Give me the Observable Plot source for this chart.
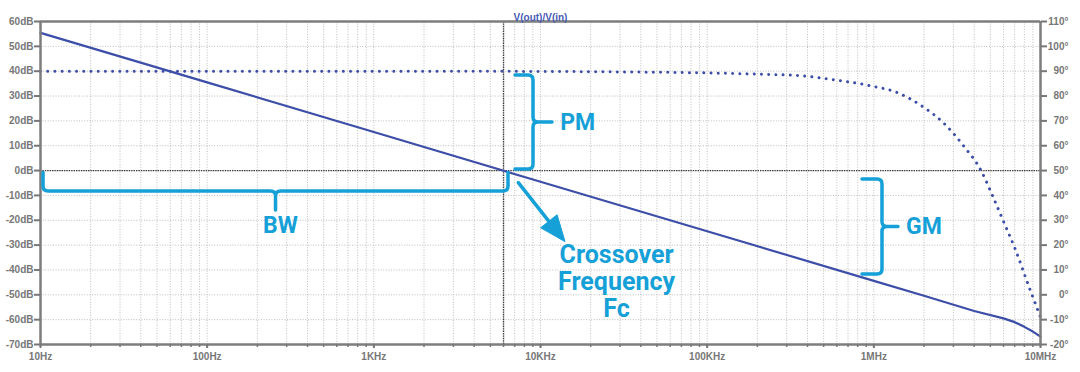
<!DOCTYPE html>
<html><head><meta charset="utf-8">
<script src="https://cdn.jsdelivr.net/npm/d3@7"></script>
<script src="https://cdn.jsdelivr.net/npm/@observablehq/plot@0.6"></script>
<style>html,body{margin:0;padding:0;background:#fff}svg{display:block}</style>
</head><body><div id="chart"></div>
<script>
// ---- data ----
const magFreq = [10, 100, 1e3, 1e4, 1e5, 1e6, 2e6, 4e6, 6e6, 7e6, 8e6, 9e6, 1e7];
const magDb   = [55.4, 35.5, 15.5, -4.5, -24.4, -44.4, -50.4, -56.5, -59.5, -61.0, -62.9, -64.8, -66.8];

const phaseFreq = [10, 1e3, 1e4, 3e4, 1e5, 2e5, 3.6e5, 5.7e5, 9.1e5, 1.45e6, 2e6, 2.6e6, 3.45e6, 4.4e6, 5.2e6, 6e6, 7.1e6, 8.5e6, 1e7];
const phaseDeg  = [90, 90, 89.9, 89.7, 89.3, 88.8, 88.2, 86.6, 84.4, 80.8, 75.4, 69.4, 60, 50, 39.3, 29.5, 17.9, 3.5, -9];

const crossoverHz = 6000;

const xTicks = [10, 100, 1e3, 1e4, 1e5, 1e6, 1e7];
const xTickLabels = ["10Hz", "100Hz", "1KHz", "10KHz", "100KHz", "1MHz", "10MHz"];
const dbTicks = [60, 50, 40, 30, 20, 10, 0, -10, -20, -30, -40, -50, -60, -70];
const dbTickLabels = ["60dB","50dB","40dB","30dB","20dB","10dB","0dB","-10dB","-20dB","-30dB","-40dB","-50dB","-60dB","-70dB"];
const phaseTicks = [110, 100, 90, 80, 70, 60, 50, 40, 30, 20, 10, 0, -10, -20];
const phaseTickLabels = ["110°","100°","90°","80°","70°","60°","50°","40°","30°","20°","10°","0°","-10°","-20°"];
const PHASE_AT_0DB = 50; // right axis: 50° aligned with 0dB, 10° per 10dB

const minorTicks = [];
for (let k = 1; k < 7; k++) for (let m = 1; m < 10; m++) minorTicks.push(m * 10 ** k);
minorTicks.push(1e7);

// annotations (data units: Hz, dB)
const pmBrace = {hook: 7080, spine: 9080, tip: 11800, top: 38.3, bottom: 0.4};
const gmBrace = {hook: 855e3, spine: 1.127e6, tip: 1.406e6, top: -3.6, bottom: -41.8};
const bwBrace = {left: 10.43, right: 6427, hook: -1.0, spine: -8.4, tip: -16.1};
const arrow = {f1: 7413, db1: -5.07, f2: 14130, db2: -28.8};
const labels = [
  {f: 16700, db: 19.2, text: "PM"},
  {f: 275, db: -22.1, text: "BW"},
  {f: 2.0e6, db: -22.7, text: "GM"}
];
const fcLabel = {f: 28600, db: -29.5, text: "Crossover\nFrequency\nFc"};

// ---- build ----
const magData = magFreq.map((f, i) => ({f, db: magDb[i]}));
const phaseData = phaseFreq.map((f, i) => ({f, deg: phaseDeg[i]}));
const TRACE = "#3c4ea8", CYAN = "#15a0d8", AXIS = "#7d7d7d", GRID = "#bdbdbd";
const axisFont = {fontSize: 10, fontWeight: "bold"};

const chart = Plot.plot({
  width: 1080, height: 372,
  marginLeft: 40, marginRight: 40, marginTop: 21, marginBottom: 28,
  x: {type: "log", domain: [10, 1e7], label: null},
  y: {domain: [-70, 60], label: null},
  style: {fontFamily: "'Liberation Sans', Arial, sans-serif", background: "#fff", color: "#777", overflow: "visible"},
  marks: [
    Plot.gridX(minorTicks, {stroke: GRID, strokeOpacity: 1, strokeDasharray: "1,1.6"}),
    Plot.gridY(dbTicks, {stroke: GRID, strokeOpacity: 1, strokeDasharray: "1,1.6"}),
    Plot.ruleY([0], {stroke: "#3a3a3a", strokeWidth: 1.4, strokeDasharray: "1.4,1"}),
    Plot.ruleX([crossoverHz], {stroke: "#3a3a3a", strokeWidth: 1.4, strokeDasharray: "1.4,1"}),
    Plot.line(phaseData, {x: "f", y: d => d.deg - PHASE_AT_0DB, curve: "monotone-x", stroke: TRACE,
      strokeWidth: 3, strokeDasharray: "0.01,7.2", strokeLinecap: "round"}),
    Plot.line(magData, {x: "f", y: "db", stroke: TRACE, strokeWidth: 2.2, strokeLinejoin: "round"}),
    Plot.ruleY([60], {stroke: AXIS, strokeWidth: 2.5}),
    Plot.ruleY([-70], {stroke: AXIS, strokeWidth: 2.5}),
    Plot.ruleX([10], {stroke: AXIS, strokeWidth: 2.5}),
    Plot.ruleX([1e7], {stroke: AXIS, strokeWidth: 2.5}),
    Plot.axisY(dbTicks, {anchor: "left", tickSize: 6, tickPadding: 1, strokeWidth: 2, label: null,
      tickFormat: d => dbTickLabels[dbTicks.indexOf(d)], ...axisFont}),
    Plot.axisY(dbTicks, {anchor: "right", tickSize: 6, strokeWidth: 2, label: null, tickFormat: () => ""}),
    Plot.text(phaseTicks, {y: p => p - PHASE_AT_0DB, text: p => phaseTickLabels[phaseTicks.indexOf(p)],
      frameAnchor: "right", dx: 28, textAnchor: "end", fill: "#777", ...axisFont}),
    Plot.axisX(minorTicks, {anchor: "bottom", tickSize: 3, strokeWidth: 1.5, label: null, tickFormat: () => ""}),
    Plot.axisX(xTicks, {anchor: "bottom", tickSize: 4, tickPadding: 4, strokeWidth: 2, label: null,
      tickFormat: d => xTickLabels[xTicks.indexOf(d)], ...axisFont}),
    Plot.text(["V(out)/V(in)"], {frameAnchor: "top", dy: -8, fill: "#4a5cb4", fontSize: 10, fontWeight: "bold"}),
    Plot.text(labels, {x: "f", y: "db", text: "text", fill: CYAN, fontSize: 23, fontWeight: "bold", fontFamily: "Roboto"}),
    Plot.text([fcLabel], {x: "f", y: "db", text: "text", fill: CYAN, fontSize: 25, fontWeight: "bold", fontFamily: "Roboto",
      lineAnchor: "top", lineHeight: 1.08})
  ]
});
document.getElementById("chart").appendChild(chart);

// ---- annotation shapes positioned through Plot's scales ----
const sx = chart.scale("x"), sy = chart.scale("y");
const X = v => sx.apply(v), Y = v => sy.apply(v);
const svg = d3.select(chart);
const g = svg.append("g").attr("fill", "none").attr("stroke", CYAN).attr("stroke-width", 3.5)
  .attr("stroke-linecap", "round").attr("stroke-linejoin", "round");

function vBrace(b, r = 5) {
  const xh = X(b.hook), xs = X(b.spine), xt = X(b.tip), yt = Y(b.top), yb = Y(b.bottom), ym = (yt + yb) / 2;
  return `M${xh},${yt}L${xs - r},${yt}Q${xs},${yt} ${xs},${yt + r}L${xs},${ym - r}Q${xs},${ym} ${xs + r},${ym}L${xt},${ym}` +
         `M${xs + r},${ym}Q${xs},${ym} ${xs},${ym + r}L${xs},${yb - r}Q${xs},${yb} ${xs - r},${yb}L${xh},${yb}`;
}
function hBrace(b, r = 5) {
  const xl = X(b.left), xr = X(b.right), yh = Y(b.hook), ys = Y(b.spine), yt = Y(b.tip), xm = (xl + xr) / 2;
  return `M${xl},${yh}L${xl},${ys - r}Q${xl},${ys} ${xl + r},${ys}L${xm - r},${ys}Q${xm},${ys} ${xm},${ys + r}L${xm},${yt}` +
         `M${xm},${ys + r}Q${xm},${ys} ${xm + r},${ys}L${xr - r},${ys}Q${xr},${ys} ${xr},${ys - r}L${xr},${yh}`;
}
g.append("path").attr("d", vBrace(pmBrace));
g.append("path").attr("d", vBrace(gmBrace));
g.append("path").attr("d", hBrace(bwBrace));

// arrow
const ax1 = X(arrow.f1), ay1 = Y(arrow.db1), ax2 = X(arrow.f2), ay2 = Y(arrow.db2);
const L = Math.hypot(ax2 - ax1, ay2 - ay1), ux = (ax2 - ax1) / L, uy = (ay2 - ay1) / L;
const headLen = 26, headHalf = 10.5;
const bx = ax2 - ux * headLen, by = ay2 - uy * headLen;
g.append("path").attr("d", `M${ax1},${ay1}L${bx + ux * 2},${by + uy * 2}`);
svg.append("path").attr("fill", CYAN).attr("stroke", CYAN).attr("stroke-width", 1).attr("stroke-linejoin", "round")
  .attr("d", `M${ax2},${ay2}L${bx - uy * headHalf},${by + ux * headHalf}L${bx + uy * headHalf},${by - ux * headHalf}Z`);
</script>
</body></html>
